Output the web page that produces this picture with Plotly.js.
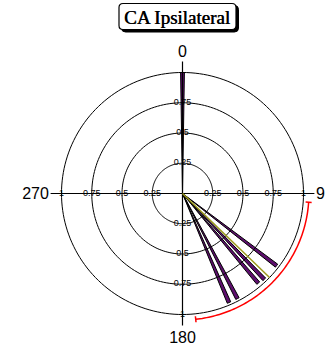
<!DOCTYPE html>
<html>
<head>
<meta charset="utf-8">
<script src="https://cdn.plot.ly/plotly-3.0.1.min.js"></script>
<style>
  html, body { margin: 0; padding: 0; background: #ffffff; }
  #chart { width: 325px; height: 349px; }
</style>
</head>
<body>
<div id="chart"></div>
<script>
// Individual directions (degrees, clockwise from north) and their vector lengths
const directions = [0, 127.5, 136.4, 139.8, 152.4, 156.9];
const lengths = [1.0, 0.98, 0.98, 0.97, 0.98, 0.98];

// Mean vector
const meanAngle = 134;
const meanLength = 1.0;

// Circular standard deviation arc (start / end direction, drawn radius)
const sdStart = 94;
const sdEnd = 174;
const sdRadius = 1.045;

// Rings and their labels
const ringRadii = [0.25, 0.5, 0.75, 1];
const ringLabels = ['0.25', '0.5', '0.75', '1'];
const topRadii = [0.25, 0.5, 0.75];
const topLabels = ['0.25', '0.5', '0.75'];

// Compass labels
const compassTicks = [0, 90, 180, 270];
const compassLabels = ['0', '90', '180', '270'];

const W = 325, H = 349;
const px = x => x / W;
const py = y => 1 - y / H;

const traces = [];

// concentric rings
ringRadii.forEach(r => {
  const th = [], rr = [];
  for (let a = 0; a <= 360; a += 2) { th.push(a); rr.push(r); }
  traces.push({
    type: 'scatterpolar', mode: 'lines', r: rr, theta: th,
    line: { color: '#000000', width: 1 }, hoverinfo: 'skip', showlegend: false
  });
});

// cross-hair axes through the centre
const axisReach = 1.09;
[[0, 180], [90, 270]].forEach(pair => {
  traces.push({
    type: 'scatterpolar', mode: 'lines',
    r: [axisReach, 0, axisReach], theta: [pair[0], pair[0], pair[1]],
    line: { color: '#000000', width: 1.2 }, hoverinfo: 'skip', showlegend: false
  });
});

// ring labels along the four half-axes
function labelFont() {
  return { family: 'Liberation Sans, Arial, sans-serif', size: 9, color: '#000000' };
}
[90, 180, 270].forEach(t => {
  traces.push({
    type: 'scatterpolar', mode: 'text', r: ringRadii, theta: ringRadii.map(() => t),
    text: ringLabels, textposition: 'middle center', textfont: labelFont(),
    hoverinfo: 'skip', showlegend: false, cliponaxis: false
  });
});
traces.push({
  type: 'scatterpolar', mode: 'text', r: topRadii, theta: topRadii.map(() => 0),
  text: topLabels, textposition: 'middle center', textfont: labelFont(),
  hoverinfo: 'skip', showlegend: false, cliponaxis: false
});

// mean vector
traces.push({
  type: 'scatterpolar', mode: 'lines', r: [0, meanLength], theta: [meanAngle, meanAngle],
  line: { color: '#9c9a1c', width: 1.5 }, hoverinfo: 'skip', showlegend: false
});

// standard deviation arc with end caps
const arcTh = [], arcR = [];
for (let a = sdStart; a <= sdEnd; a += 1) { arcTh.push(a); arcR.push(sdRadius); }
traces.push({
  type: 'scatterpolar', mode: 'lines', r: arcR, theta: arcTh,
  line: { color: '#ff0000', width: 1.5 }, hoverinfo: 'skip', showlegend: false, cliponaxis: false
});
const capHalf = 0.025;
traces.push({
  type: 'scatterpolar', mode: 'lines',
  r: [sdRadius - capHalf, sdRadius + capHalf, null, sdRadius - capHalf, sdRadius + capHalf],
  theta: [sdStart, sdStart, null, sdEnd, sdEnd],
  line: { color: '#ff0000', width: 1.5 }, hoverinfo: 'skip', showlegend: false, cliponaxis: false
});

// individual direction vectors
traces.push({
  type: 'barpolar', r: lengths, theta: directions, width: directions.map(() => 1.8),
  marker: { color: '#5e0f6e', line: { color: '#000000', width: 1 } },
  hoverinfo: 'skip', showlegend: false
});

// box behind the title, with a drop shadow
function roundRect(x0, y0, x1, y1, rad) {
  const X = v => px(v), Y = v => py(v);
  return `M ${X(x0 + rad)},${Y(y0)} L ${X(x1 - rad)},${Y(y0)} Q ${X(x1)},${Y(y0)} ${X(x1)},${Y(y0 + rad)} ` +
         `L ${X(x1)},${Y(y1 - rad)} Q ${X(x1)},${Y(y1)} ${X(x1 - rad)},${Y(y1)} ` +
         `L ${X(x0 + rad)},${Y(y1)} Q ${X(x0)},${Y(y1)} ${X(x0)},${Y(y1 - rad)} ` +
         `L ${X(x0)},${Y(y0 + rad)} Q ${X(x0)},${Y(y0)} ${X(x0 + rad)},${Y(y0)} Z`;
}
const shapes = [
  { type: 'path', xref: 'paper', yref: 'paper', path: roundRect(121.5, 5.5, 238.5, 32, 4),
    fillcolor: '#000000', line: { color: '#000000', width: 1 }, layer: 'above' },
  { type: 'path', xref: 'paper', yref: 'paper', path: roundRect(119, 3.5, 236, 29.5, 4),
    fillcolor: '#ffffff', line: { color: '#000000', width: 1.2 }, layer: 'above' }
];

const R1 = 121;              // pixel radius of the unit ring
const rangeMax = 1.1;
const half = R1 * rangeMax;
const cx = 182.5, cy = 193.5;

const layout = {
  width: W, height: H,
  margin: { l: 0, r: 0, t: 0, b: 0, pad: 0 },
  paper_bgcolor: '#ffffff', plot_bgcolor: '#ffffff',
  showlegend: false,
  shapes: shapes,
  annotations: [{
    text: 'CA Ipsilateral', xref: 'paper', yref: 'paper',
    x: px(177.5), y: py(17.5), xanchor: 'center', yanchor: 'middle', showarrow: false,
    font: { family: 'Liberation Serif, Times New Roman, serif', size: 19, color: '#000000',
            shadow: '0.5px 0 0 #000' }
  }],
  polar: {
    domain: { x: [px(cx - half), px(cx + half)], y: [py(cy + half), py(cy - half)] },
    bgcolor: 'rgba(0,0,0,0)',
    radialaxis: { visible: false, range: [0, rangeMax] },
    angularaxis: {
      direction: 'clockwise', rotation: 90,
      showline: false, showgrid: false, ticks: '',
      tickmode: 'array', tickvals: compassTicks, ticktext: compassLabels,
      tickfont: { family: 'Liberation Sans, Arial, sans-serif', size: 16, color: '#000000' }
    }
  }
};

Plotly.newPlot('chart', traces, layout, { staticPlot: true, displayModeBar: false });
</script>
</body>
</html>
